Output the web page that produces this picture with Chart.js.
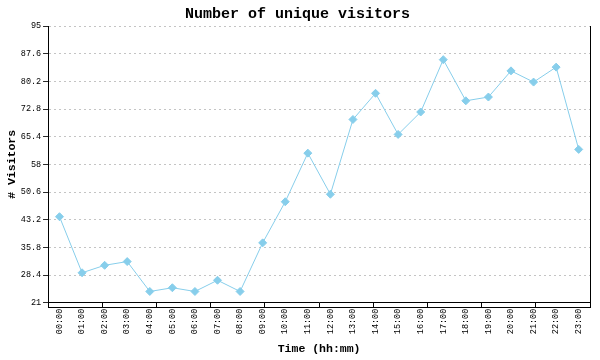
<!DOCTYPE html>
<html>
<head>
<meta charset="utf-8">
<script src="https://cdn.jsdelivr.net/npm/chart.js@4"></script>
<style>
  html, body { margin: 0; padding: 0; background: #fff; }
  #wrap { width: 600px; height: 360px; }
</style>
</head>
<body>
<div id="wrap"><canvas id="visitsChart"></canvas></div>
<script>
    const hours = ['00:00', '01:00', '02:00', '03:00', '04:00', '05:00', '06:00', '07:00',
                   '08:00', '09:00', '10:00', '11:00', '12:00', '13:00', '14:00', '15:00',
                   '16:00', '17:00', '18:00', '19:00', '20:00', '21:00', '22:00', '23:00'];
    const visitors = [44, 29, 31, 32, 24, 25, 24, 27, 24, 37, 48, 61,
                      50, 70, 77, 66, 72, 86, 75, 76, 83, 80, 84, 62];
    const yTicks = [21, 28.4, 35.8, 43.2, 50.6, 58, 65.4, 72.8, 80.2, 87.6, 95];

    const mono = 'Liberation Mono, DejaVu Sans Mono, monospace';

    const config = {
        type: 'line',
        data: {
            labels: hours,
            datasets: [{
                label: 'Visitors',
                data: visitors,
                borderColor: '#87ceeb',
                backgroundColor: '#87ceeb',
                borderWidth: 1,
                pointStyle: 'rectRot',
                pointRadius: 4,
                pointHoverRadius: 4,
                tension: 0,
                fill: false
            }]
        },
        options: {
            responsive: true,
            maintainAspectRatio: false,
            animation: false,
            layout: { padding: { left: 5, right: 10, top: 0, bottom: 4 } },
            plugins: {
                legend: { display: false },
                tooltip: { enabled: false },
                title: {
                    display: true,
                    text: 'Number of unique visitors',
                    color: '#000',
                    font: { family: mono, size: 15, weight: 'bold' },
                    padding: { top: 5, bottom: 3 }
                }
            },
            scales: {
                x: {
                    type: 'category',
                    offset: true,
                    weight: 1,
                    grid: { display: false, drawTicks: false },
                    border: { display: true, color: '#000', width: 1 },
                    ticks: {
                        autoSkip: false,
                        minRotation: 90,
                        maxRotation: 90,
                        padding: 1,
                        color: '#000',
                        font: { family: mono, size: 8.5 }
                    },
                    title: {
                        display: true,
                        text: 'Time (hh:mm)',
                        color: '#000',
                        font: { family: mono, size: 11.5, weight: 'bold' },
                        padding: { top: 7, bottom: 0 }
                    }
                },
                xt: {
                    type: 'linear',
                    position: 'bottom',
                    weight: 0,
                    min: 0,
                    max: 10,
                    ticks: { display: false, stepSize: 1 },
                    grid: {
                        drawOnChartArea: false,
                        drawTicks: true,
                        tickLength: 5,
                        tickColor: '#000',
                        color: '#000'
                    },
                    border: { display: true, color: '#000', width: 1 }
                },
                y: {
                    type: 'linear',
                    min: 21,
                    max: 95,
                    afterBuildTicks: (scale) => {
                        scale.ticks = yTicks.map(v => ({ value: v }));
                    },
                    grid: {
                        color: '#c4c4c4',
                        lineWidth: 1,
                        drawTicks: true,
                        tickLength: 5,
                        tickColor: '#000',
                        tickWidth: 1,
                        tickBorderDash: [1, 0]
                    },
                    border: { display: true, color: '#000', width: 1, dash: [2, 3] },
                    ticks: {
                        padding: 2,
                        color: '#000',
                        font: { family: mono, size: 8.5 },
                        callback: (v) => String(v)
                    },
                    title: {
                        display: true,
                        text: '# Visitors',
                        color: '#000',
                        font: { family: mono, size: 11.5, weight: 'bold' },
                        padding: { top: 0, bottom: 0 }
                    }
                },
                yr: {
                    type: 'linear',
                    position: 'right',
                    min: 21,
                    max: 95,
                    ticks: { display: false },
                    grid: { display: false, drawTicks: false },
                    border: { display: true, color: '#000', width: 1 }
                }
            }
        }
    };

    new Chart(document.getElementById('visitsChart'), config);
</script>
</body>
</html>
